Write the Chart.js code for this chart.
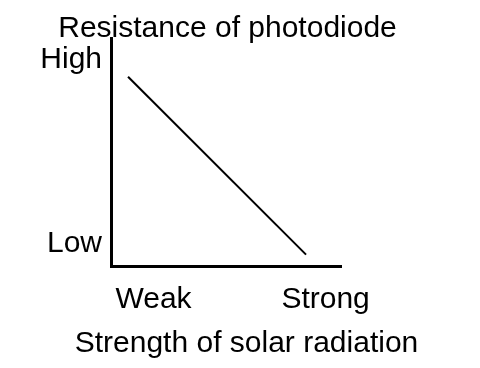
<!DOCTYPE html>
<html>
<head>
<meta charset="utf-8">
<script src="https://cdn.jsdelivr.net/npm/chart.js@4"></script>
<style>
  html, body { margin: 0; padding: 0; background: #fff; }
  canvas { display: block; }
</style>
</head>
<body>
<canvas id="chart" width="480" height="368"></canvas>
<script>
// Sketch data, relative units 0-100 on both axes
const strength = [7.4, 84.8];
const resistance = [83, 5];
const xTickValues = [18.5, 93.3];
const xTickLabels = ['Weak', 'Strong'];
const yTickValues = [9.8, 90.4];
const yTickLabels = ['Low', 'High'];
const topCaption = 'Resistance of photodiode';
const bottomCaption = 'Strength of solar radiation';

const FONT = '"Liberation Sans", Arial, sans-serif';
const SIZE = 30;

// captions above and below the plot (not centred on the canvas in the original)
const captions = {
  id: 'captions',
  afterDraw(chart) {
    const ctx = chart.ctx;
    ctx.save();
    ctx.font = SIZE + 'px ' + FONT;
    ctx.fillStyle = '#000';
    ctx.textAlign = 'center';
    ctx.textBaseline = 'alphabetic';
    ctx.fillText(topCaption, 227.5, 37);
    ctx.fillText(bottomCaption, 246.5, 352);
    ctx.restore();
  }
};

const ctx = document.getElementById('chart').getContext('2d');
new Chart(ctx, {
  type: 'line',
  data: {
    datasets: [{
      data: strength.map((x, i) => ({ x: x, y: resistance[i] })),
      borderColor: '#000',
      borderWidth: 2,
      pointRadius: 0,
      tension: 0,
      fill: false
    }]
  },
  options: {
    responsive: false,
    animation: false,
    layout: { padding: { top: 38, right: 139, left: 0, bottom: 0 } },
    plugins: {
      legend: { display: false },
      tooltip: { enabled: false }
    },
    scales: {
      x: {
        type: 'linear',
        min: 0,
        max: 100,
        grid: { display: false },
        border: { display: true, color: '#000', width: 3 },
        afterBuildTicks: s => { s.ticks = xTickValues.map(v => ({ value: v })); },
        afterFit: s => { s.height = 102; },
        ticks: {
          autoSkip: false,
          maxRotation: 0,
          padding: 8,
          color: '#000',
          font: { family: FONT, size: SIZE },
          callback: (v, i) => xTickLabels[i]
        }
      },
      y: {
        type: 'linear',
        min: 0,
        max: 100,
        grid: { display: false },
        border: { display: true, color: '#000', width: 3 },
        afterBuildTicks: s => { s.ticks = yTickValues.map(v => ({ value: v })); },
        afterFit: s => { s.width = 111; },
        ticks: {
          autoSkip: false,
          padding: 1,
          color: '#000',
          font: { family: FONT, size: SIZE },
          callback: (v, i) => yTickLabels[i]
        }
      }
    }
  },
  plugins: [captions]
});
</script>
</body>
</html>
